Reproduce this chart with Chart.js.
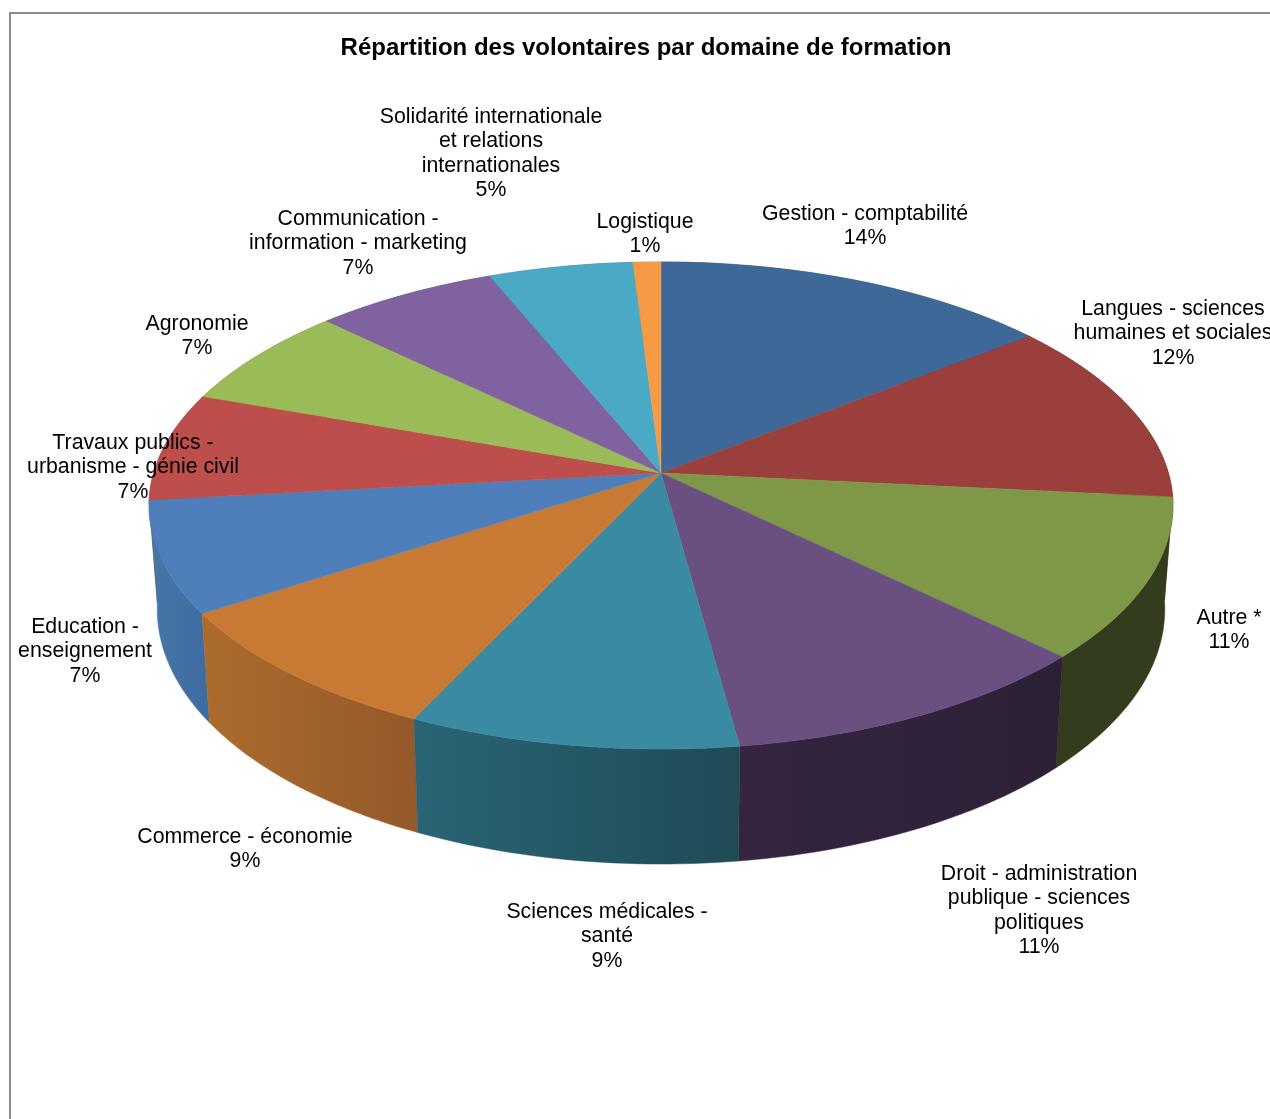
<!DOCTYPE html>
<html>
<head>
<meta charset="utf-8">
<style>
  html, body { margin: 0; padding: 0; background: #fff; overflow: hidden; }
  canvas { display: block; }
</style>
<script src="https://cdn.jsdelivr.net/npm/chart.js@4"></script>
</head>
<body>
<canvas id="chart" width="1270" height="1119"></canvas>
<script>
const titleText = 'Répartition des volontaires par domaine de formation';

const categories = [
  ['Gestion - comptabilité'],
  ['Langues - sciences', 'humaines et sociales'],
  ['Autre *'],
  ['Droit - administration', 'publique - sciences', 'politiques'],
  ['Sciences médicales -', 'santé'],
  ['Commerce - économie'],
  ['Education -', 'enseignement'],
  ['Travaux publics -', 'urbanisme - génie civil'],
  ['Agronomie'],
  ['Communication -', 'information - marketing'],
  ['Solidarité internationale', 'et relations', 'internationales'],
  ['Logistique']
];

// parts en %
const values = [14.4, 12.2, 10.7, 10.6, 9.2, 8.8, 7.4, 7.2, 6.8, 6.6, 5.2, 1.0];

const topColors = ['#3e6898', '#9b3f3c', '#7f9848', '#6a5080', '#3a8aa2', '#c87a35',
                   '#4f7fbb', '#bd4e4c', '#9bba58', '#8062a0', '#4aa9c4', '#f79a46'];
const wallLeft  = ['#2f4f74', '#762f2d', '#333c1c', '#352540', '#2a6475', '#ad6c2d',
                   '#4776a8', '#8e3a38', '#758d42', '#604a79', '#387f94', '#bb7434'];
const wallRight = ['#2f4f74', '#762f2d', '#333c1c', '#2c2036', '#1f4b55', '#95592a',
                   '#3f6da2', '#8e3a38', '#758d42', '#604a79', '#387f94', '#bb7434'];

// centre du texte : x, y de la premiere ligne
const labelX = [865, 1173, 1229, 1039, 607, 245, 85, 133, 197, 358, 491, 645];
const labelY = [213, 308, 617, 873, 911, 836, 626, 442, 323, 218, 116, 221];

// projection perspective du disque
const apexX = 661, apexY = 473;
const scaleX = 507.4, scaleY = 239.2, persp = 0.1335;

function topPoint(a) {
  const u = Math.cos(a), v = -Math.sin(a);
  const d = 1 + persp * v;
  return { x: apexX + scaleX * u / d, y: apexY - scaleY * v / d, v: v };
}

function bottomPoint(a) {
  const p = topPoint(a);
  return { x: apexX + (p.x - apexX) * 0.984, y: p.y + 102 - 13 * p.v };
}

function arcAngles(arc) {
  const steps = Math.max(2, Math.ceil((arc.endAngle - arc.startAngle) / 0.02));
  const list = [];
  for (let i = 0; i <= steps; i++) {
    list.push(arc.startAngle + (arc.endAngle - arc.startAngle) * i / steps);
  }
  return list;
}

function tracePoints(ctx, pts) {
  ctx.beginPath();
  pts.forEach((p, i) => i ? ctx.lineTo(p.x, p.y) : ctx.moveTo(p.x, p.y));
  ctx.closePath();
}

const pie3d = {
  id: 'pie3d',
  beforeDraw(chart) {
    // cadre gris, coupe a droite et en bas
    const ctx = chart.ctx;
    ctx.save();
    ctx.strokeStyle = '#8c8c8c';
    ctx.lineWidth = 2;
    ctx.beginPath();
    ctx.moveTo(10, 1125);
    ctx.lineTo(10, 13);
    ctx.lineTo(1280, 13);
    ctx.stroke();
    ctx.restore();
  },
  beforeDatasetDraw(chart, args) {
    const ctx = chart.ctx;
    const arcs = args.meta.data;
    ctx.save();

    // les cotes, de l'arriere vers l'avant
    const order = arcs.map((a, i) => i).sort((a, b) =>
      topPoint((arcs[b].startAngle + arcs[b].endAngle) / 2).y -
      topPoint((arcs[a].startAngle + arcs[a].endAngle) / 2).y).reverse();
    order.forEach(i => {
      const angles = arcAngles(arcs[i]);
      const top = angles.map(topPoint);
      const bottom = angles.map(bottomPoint).reverse();
      const xs = top.map(p => p.x);
      const grad = ctx.createLinearGradient(Math.min(...xs), 0, Math.max(...xs), 0);
      grad.addColorStop(0, wallLeft[i]);
      grad.addColorStop(1, wallRight[i]);
      tracePoints(ctx, top.concat(bottom));
      ctx.fillStyle = grad;
      ctx.strokeStyle = grad;
      ctx.lineWidth = 0.5;
      ctx.fill();
      ctx.stroke();
    });

    // le dessus
    arcs.forEach((arc, i) => {
      const pts = [{ x: apexX, y: apexY }].concat(arcAngles(arc).map(topPoint));
      tracePoints(ctx, pts);
      ctx.fillStyle = topColors[i];
      ctx.strokeStyle = topColors[i];
      ctx.lineWidth = 0.5;
      ctx.fill();
      ctx.stroke();
    });

    ctx.restore();
    return false;
  },
  afterDatasetsDraw(chart) {
    const ctx = chart.ctx;
    const total = values.reduce((a, b) => a + b, 0);
    ctx.save();
    ctx.font = '21.3px "Liberation Sans"';
    ctx.fillStyle = '#000';
    ctx.textAlign = 'center';
    ctx.textBaseline = 'middle';
    categories.forEach((lines, i) => {
      const all = lines.concat(Math.round(values[i] / total * 100) + '%');
      all.forEach((line, j) => {
        ctx.fillText(line, labelX[i], labelY[i] + 1 + j * 24.4);
      });
    });
    ctx.restore();
  }
};

new Chart(document.getElementById('chart'), {
  type: 'pie',
  data: {
    labels: categories,
    datasets: [{ data: values, backgroundColor: topColors, borderWidth: 0 }]
  },
  options: {
    responsive: false,
    animation: false,
    layout: { padding: { left: 22 } },
    plugins: {
      legend: { display: false },
      tooltip: { enabled: false },
      title: {
        display: true,
        text: titleText,
        color: '#000',
        font: { family: '"Liberation Sans"', size: 24, weight: 'bold' },
        padding: { top: 34, bottom: 10 }
      }
    }
  },
  plugins: [pie3d]
});
</script>
</body>
</html>
